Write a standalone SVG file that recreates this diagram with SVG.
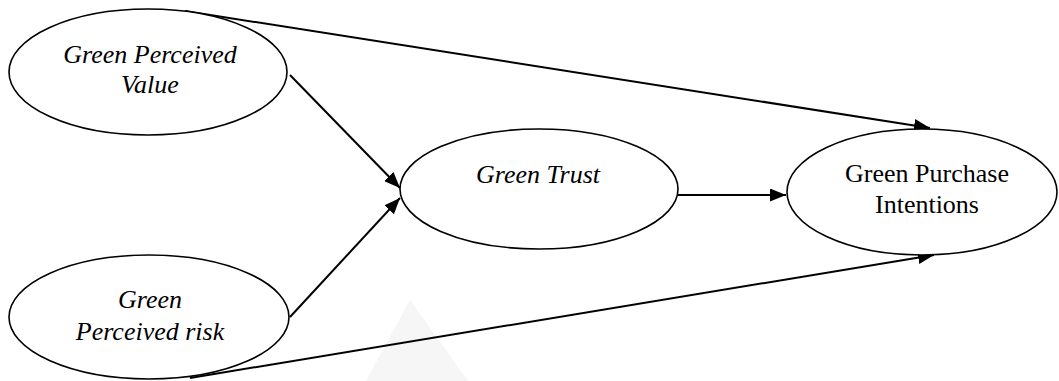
<svg xmlns="http://www.w3.org/2000/svg" width="1059" height="381" viewBox="0 0 1059 381">
<style>
.node{fill:#fff;stroke:#000;stroke-width:1.6}
.it{font-family:"Liberation Serif","Times New Roman",serif;font-style:italic;font-size:26px;fill:#000;text-anchor:middle}
.rg{font-family:"Liberation Serif","Times New Roman",serif;font-size:26px;fill:#000;text-anchor:middle}
.edge{stroke:#000;stroke-width:2;fill:none}
</style>
<defs>
<marker id="arr" viewBox="0 0 16 13" refX="16" refY="6.5" markerWidth="16" markerHeight="13" markerUnits="userSpaceOnUse" orient="auto">
<path d="M0,0 L16,6.5 L0,13 Z" fill="#000"/>
</marker>
</defs>
<rect width="1059" height="381" fill="#fff"/>
<polygon points="410,300 366,381 468,381" fill="#f6f6f6"/>
<g id="connectors">
<line class="edge" x1="185" y1="11" x2="930" y2="128" marker-end="url(#arr)"/>
<line class="edge" x1="290" y1="75" x2="400" y2="188" marker-end="url(#arr)"/>
<line class="edge" x1="290" y1="317" x2="400" y2="198" marker-end="url(#arr)"/>
<line class="edge" x1="678" y1="195" x2="786" y2="195" marker-end="url(#arr)"/>
<line class="edge" x1="190" y1="378" x2="934" y2="255" marker-end="url(#arr)"/>
</g>
<g id="gpv">
<ellipse class="node" cx="148" cy="72" rx="139" ry="63"/>
<text class="it" x="150" y="63">Green Perceived</text>
<text class="it" x="150" y="93">Value</text>
</g>
<g id="gpr">
<ellipse class="node" cx="149" cy="317" rx="140" ry="62"/>
<text class="it" x="150" y="308">Green</text>
<text class="it" x="150" y="340">Perceived risk</text>
</g>
<g id="gt">
<ellipse class="node" cx="539" cy="189" rx="139" ry="60"/>
<text class="it" x="538" y="183">Green Trust</text>
</g>
<g id="gpi">
<ellipse class="node" cx="922" cy="192" rx="135" ry="63"/>
<text class="rg" x="927" y="182">Green Purchase</text>
<text class="rg" x="927" y="213">Intentions</text>
</g>
</svg>
